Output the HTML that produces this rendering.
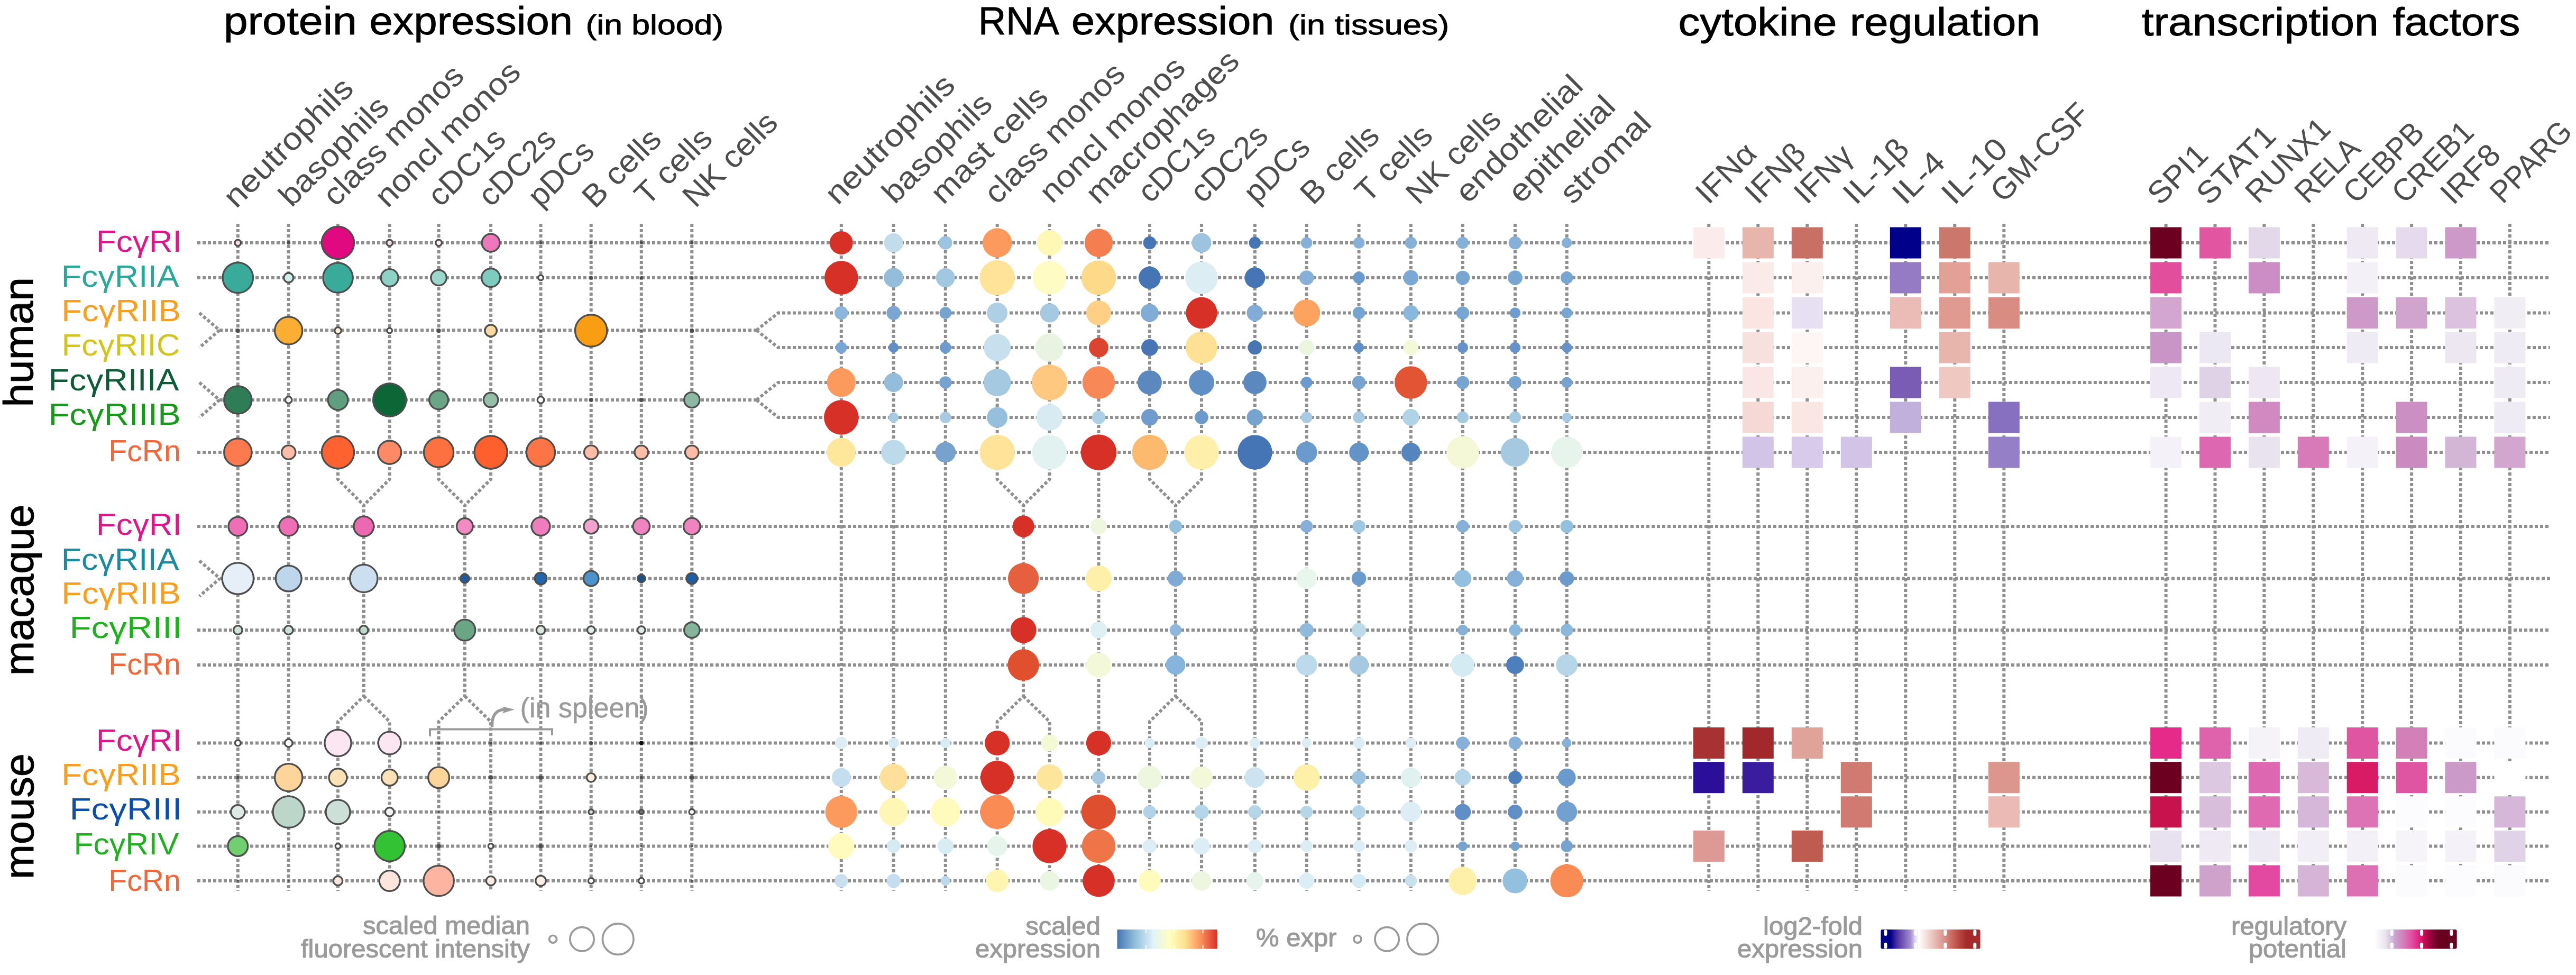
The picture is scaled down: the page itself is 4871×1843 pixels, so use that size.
<!DOCTYPE html>
<html><head><meta charset="utf-8"><style>
html,body{margin:0;padding:0;background:#fff;}
svg{display:block;}
text{font-family:"Liberation Sans", sans-serif;}
</style></head><body>
<svg width="4871" height="1843" viewBox="0 0 4871 1843">
<rect width="4871" height="1843" fill="#fff"/>
<text x="422.7" y="65.0" font-size="75" fill="#000" textLength="252.3" lengthAdjust="spacingAndGlyphs" stroke="#000" stroke-width="0.9">protein</text>
<text x="698.6" y="65.0" font-size="75" fill="#000" textLength="384.3" lengthAdjust="spacingAndGlyphs" stroke="#000" stroke-width="0.9">expression</text>
<text x="1107.5" y="65.0" font-size="51" fill="#000" textLength="260.6" lengthAdjust="spacingAndGlyphs" stroke="#000" stroke-width="0.9">(in blood)</text>
<text x="1850.1" y="65.0" font-size="75" fill="#000" textLength="152.7" lengthAdjust="spacingAndGlyphs" stroke="#000" stroke-width="0.9">RNA</text>
<text x="2026.0" y="65.0" font-size="75" fill="#000" textLength="383.4" lengthAdjust="spacingAndGlyphs" stroke="#000" stroke-width="0.9">expression</text>
<text x="2436.1" y="65.0" font-size="51" fill="#000" textLength="304.1" lengthAdjust="spacingAndGlyphs" stroke="#000" stroke-width="0.9">(in tissues)</text>
<text x="3173.4" y="67.0" font-size="75" fill="#000" textLength="300.0" lengthAdjust="spacingAndGlyphs" stroke="#000" stroke-width="0.9">cytokine</text>
<text x="3497.8" y="67.0" font-size="75" fill="#000" textLength="360.1" lengthAdjust="spacingAndGlyphs" stroke="#000" stroke-width="0.9">regulation</text>
<text x="4049.7" y="66.6" font-size="75" fill="#000" textLength="448.1" lengthAdjust="spacingAndGlyphs" stroke="#000" stroke-width="0.9">transcription</text>
<text x="4524.4" y="66.6" font-size="75" fill="#000" textLength="240.9" lengthAdjust="spacingAndGlyphs" stroke="#000" stroke-width="0.9">factors</text>
<text x="446.6" y="395.8" font-size="59" fill="#4d4d4d" text-anchor="start" textLength="318.4" lengthAdjust="spacingAndGlyphs" transform="rotate(-45 446.6 395.8)">neutrophils</text>
<text x="551.2" y="393.4" font-size="59" fill="#4d4d4d" text-anchor="start" textLength="265.2" lengthAdjust="spacingAndGlyphs" transform="rotate(-45 551.2 393.4)">basophils</text>
<text x="634.8" y="392.5" font-size="59" fill="#4d4d4d" text-anchor="start" textLength="347.6" lengthAdjust="spacingAndGlyphs" transform="rotate(-45 634.8 392.5)">class monos</text>
<text x="732.8" y="394.8" font-size="59" fill="#4d4d4d" text-anchor="start" textLength="360.7" lengthAdjust="spacingAndGlyphs" transform="rotate(-45 732.8000000000001 394.8)">noncl monos</text>
<text x="833.3" y="392.9" font-size="59" fill="#4d4d4d" text-anchor="start" textLength="178.4" lengthAdjust="spacingAndGlyphs" transform="rotate(-45 833.3000000000001 392.9)">cDC1s</text>
<text x="928.4" y="392.9" font-size="59" fill="#4d4d4d" text-anchor="start" textLength="178.4" lengthAdjust="spacingAndGlyphs" transform="rotate(-45 928.4 392.9)">cDC2s</text>
<text x="1022.2" y="394.0" font-size="59" fill="#4d4d4d" text-anchor="start" textLength="148.1" lengthAdjust="spacingAndGlyphs" transform="rotate(-45 1022.2 394)">pDCs</text>
<text x="1124.7" y="396.0" font-size="59" fill="#4d4d4d" text-anchor="start" textLength="182.8" lengthAdjust="spacingAndGlyphs" transform="rotate(-45 1124.7 396)">B cells</text>
<text x="1224.0" y="391.6" font-size="59" fill="#4d4d4d" text-anchor="start" textLength="178.8" lengthAdjust="spacingAndGlyphs" transform="rotate(-45 1224.0 391.6)">T cells</text>
<text x="1314.8" y="394.8" font-size="59" fill="#4d4d4d" text-anchor="start" textLength="225.2" lengthAdjust="spacingAndGlyphs" transform="rotate(-45 1314.8 394.8)">NK cells</text>
<text x="1584.1" y="389.6" font-size="59" fill="#4d4d4d" text-anchor="start" textLength="318.4" lengthAdjust="spacingAndGlyphs" transform="rotate(-45 1584.1 389.6)">neutrophils</text>
<text x="1692.1" y="387.6" font-size="59" fill="#4d4d4d" text-anchor="start" textLength="265.2" lengthAdjust="spacingAndGlyphs" transform="rotate(-45 1692.1000000000001 387.6)">basophils</text>
<text x="1783.8" y="388.6" font-size="59" fill="#4d4d4d" text-anchor="start" textLength="285.0" lengthAdjust="spacingAndGlyphs" transform="rotate(-45 1783.8 388.6)">mast cells</text>
<text x="1885.2" y="388.4" font-size="59" fill="#4d4d4d" text-anchor="start" textLength="347.6" lengthAdjust="spacingAndGlyphs" transform="rotate(-45 1885.2 388.4)">class monos</text>
<text x="1989.6" y="386.5" font-size="59" fill="#4d4d4d" text-anchor="start" textLength="360.7" lengthAdjust="spacingAndGlyphs" transform="rotate(-45 1989.6 386.5)">noncl monos</text>
<text x="2077.0" y="388.6" font-size="59" fill="#4d4d4d" text-anchor="start" textLength="381.4" lengthAdjust="spacingAndGlyphs" transform="rotate(-45 2077.0 388.6)">macrophages</text>
<text x="2175.6" y="386.0" font-size="59" fill="#4d4d4d" text-anchor="start" textLength="178.4" lengthAdjust="spacingAndGlyphs" transform="rotate(-45 2175.6 386)">cDC1s</text>
<text x="2274.8" y="386.0" font-size="59" fill="#4d4d4d" text-anchor="start" textLength="178.4" lengthAdjust="spacingAndGlyphs" transform="rotate(-45 2274.8 386)">cDC2s</text>
<text x="2375.7" y="387.0" font-size="59" fill="#4d4d4d" text-anchor="start" textLength="148.1" lengthAdjust="spacingAndGlyphs" transform="rotate(-45 2375.7000000000003 387)">pDCs</text>
<text x="2482.5" y="389.6" font-size="59" fill="#4d4d4d" text-anchor="start" textLength="182.8" lengthAdjust="spacingAndGlyphs" transform="rotate(-45 2482.5 389.6)">B cells</text>
<text x="2586.2" y="386.1" font-size="59" fill="#4d4d4d" text-anchor="start" textLength="178.8" lengthAdjust="spacingAndGlyphs" transform="rotate(-45 2586.2 386.1)">T cells</text>
<text x="2682.5" y="389.3" font-size="59" fill="#4d4d4d" text-anchor="start" textLength="225.2" lengthAdjust="spacingAndGlyphs" transform="rotate(-45 2682.5 389.3)">NK cells</text>
<text x="2776.2" y="386.4" font-size="59" fill="#4d4d4d" text-anchor="start" textLength="312.1" lengthAdjust="spacingAndGlyphs" transform="rotate(-45 2776.2000000000003 386.4)">endothelial</text>
<text x="2876.1" y="386.4" font-size="59" fill="#4d4d4d" text-anchor="start" textLength="257.4" lengthAdjust="spacingAndGlyphs" transform="rotate(-45 2876.1 386.4)">epithelial</text>
<text x="2973.8" y="388.2" font-size="59" fill="#4d4d4d" text-anchor="start" textLength="215.3" lengthAdjust="spacingAndGlyphs" transform="rotate(-45 2973.7999999999997 388.2)">stromal</text>
<text x="3230.2" y="388.6" font-size="59" fill="#4d4d4d" text-anchor="start" textLength="134.2" lengthAdjust="spacingAndGlyphs" transform="rotate(-45 3230.2000000000003 388.6)">IFNα</text>
<text x="3323.2" y="388.6" font-size="59" fill="#4d4d4d" text-anchor="start" textLength="134.2" lengthAdjust="spacingAndGlyphs" transform="rotate(-45 3323.2000000000003 388.6)">IFNβ</text>
<text x="3416.2" y="388.6" font-size="59" fill="#4d4d4d" text-anchor="start" textLength="128.5" lengthAdjust="spacingAndGlyphs" transform="rotate(-45 3416.2000000000003 388.6)">IFNγ</text>
<text x="3509.1" y="389.6" font-size="59" fill="#4d4d4d" text-anchor="start" textLength="147.5" lengthAdjust="spacingAndGlyphs" transform="rotate(-45 3509.1000000000004 389.6)">IL-1β</text>
<text x="3602.2" y="389.6" font-size="59" fill="#4d4d4d" text-anchor="start" textLength="112.2" lengthAdjust="spacingAndGlyphs" transform="rotate(-45 3602.2000000000003 389.6)">IL-4</text>
<text x="3695.1" y="389.6" font-size="59" fill="#4d4d4d" text-anchor="start" textLength="148.2" lengthAdjust="spacingAndGlyphs" transform="rotate(-45 3695.1000000000004 389.6)">IL-10</text>
<text x="3788.1" y="385.2" font-size="59" fill="#4d4d4d" text-anchor="start" textLength="235.7" lengthAdjust="spacingAndGlyphs" transform="rotate(-45 3788.1000000000004 385.2)">GM-CSF</text>
<text x="4084.8" y="390.2" font-size="59" fill="#4d4d4d" text-anchor="start" textLength="133.0" lengthAdjust="spacingAndGlyphs" transform="rotate(-45 4084.7999999999997 390.2)">SPI1</text>
<text x="4177.4" y="390.2" font-size="59" fill="#4d4d4d" text-anchor="start" textLength="183.5" lengthAdjust="spacingAndGlyphs" transform="rotate(-45 4177.4 390.2)">STAT1</text>
<text x="4270.0" y="387.2" font-size="59" fill="#4d4d4d" text-anchor="start" textLength="198.2" lengthAdjust="spacingAndGlyphs" transform="rotate(-45 4270.0 387.2)">RUNX1</text>
<text x="4363.3" y="387.2" font-size="59" fill="#4d4d4d" text-anchor="start" textLength="145.6" lengthAdjust="spacingAndGlyphs" transform="rotate(-45 4363.3 387.2)">RELA</text>
<text x="4454.9" y="387.3" font-size="59" fill="#4d4d4d" text-anchor="start" textLength="187.4" lengthAdjust="spacingAndGlyphs" transform="rotate(-45 4454.9 387.3)">CEBPB</text>
<text x="4547.1" y="387.3" font-size="59" fill="#4d4d4d" text-anchor="start" textLength="189.8" lengthAdjust="spacingAndGlyphs" transform="rotate(-45 4547.1 387.3)">CREB1</text>
<text x="4638.7" y="389.6" font-size="59" fill="#4d4d4d" text-anchor="start" textLength="131.9" lengthAdjust="spacingAndGlyphs" transform="rotate(-45 4638.7 389.6)">IRF8</text>
<text x="4732.5" y="387.2" font-size="59" fill="#4d4d4d" text-anchor="start" textLength="190.5" lengthAdjust="spacingAndGlyphs" transform="rotate(-45 4732.5 387.2)">PPARG</text>
<text x="0" y="0" font-size="78" fill="#000" textLength="245.5" lengthAdjust="spacingAndGlyphs" transform="translate(61.5 769.6) rotate(-90)" stroke="#000" stroke-width="0.9">human</text>
<text x="0" y="0" font-size="78" fill="#000" textLength="323.6" lengthAdjust="spacingAndGlyphs" transform="translate(62.6 1277.2) rotate(-90)" stroke="#000" stroke-width="0.9">macaque</text>
<text x="0" y="0" font-size="78" fill="#000" textLength="237.9" lengthAdjust="spacingAndGlyphs" transform="translate(62.6 1662.0) rotate(-90)" stroke="#000" stroke-width="0.9">mouse</text>
<text x="181.7" y="475.7" font-size="58" fill="#df168b" textLength="162.2" lengthAdjust="spacingAndGlyphs">FcγRI</text>
<text x="115.8" y="541.9" font-size="58" fill="#2aa69a" textLength="222.8" lengthAdjust="spacingAndGlyphs">FcγRIIA</text>
<text x="116.3" y="606.5" font-size="58" fill="#f99d1c" textLength="225.4" lengthAdjust="spacingAndGlyphs">FcγRIIB</text>
<text x="116.4" y="672.0" font-size="58" fill="#d2c41b" textLength="224.3" lengthAdjust="spacingAndGlyphs">FcγRIIC</text>
<text x="91.6" y="737.8" font-size="58" fill="#0c5c37" textLength="246.9" lengthAdjust="spacingAndGlyphs">FcγRIIIA</text>
<text x="91.5" y="803.0" font-size="58" fill="#17991a" textLength="250.2" lengthAdjust="spacingAndGlyphs">FcγRIIIB</text>
<text x="205.3" y="871.5" font-size="58" fill="#f2673a" textLength="136.6" lengthAdjust="spacingAndGlyphs">FcRn</text>
<text x="181.7" y="1011.0" font-size="58" fill="#df168b" textLength="162.2" lengthAdjust="spacingAndGlyphs">FcγRI</text>
<text x="115.8" y="1076.5" font-size="58" fill="#1b8a9f" textLength="222.8" lengthAdjust="spacingAndGlyphs">FcγRIIA</text>
<text x="116.3" y="1141.0" font-size="58" fill="#f99d1c" textLength="225.4" lengthAdjust="spacingAndGlyphs">FcγRIIB</text>
<text x="131.5" y="1206.0" font-size="58" fill="#1eb21e" textLength="213.0" lengthAdjust="spacingAndGlyphs">FcγRIII</text>
<text x="205.3" y="1275.0" font-size="58" fill="#f2673a" textLength="136.6" lengthAdjust="spacingAndGlyphs">FcRn</text>
<text x="181.7" y="1419.0" font-size="58" fill="#df168b" textLength="162.2" lengthAdjust="spacingAndGlyphs">FcγRI</text>
<text x="116.3" y="1484.0" font-size="58" fill="#f99d1c" textLength="225.4" lengthAdjust="spacingAndGlyphs">FcγRIIB</text>
<text x="131.5" y="1548.5" font-size="58" fill="#0d4ea9" textLength="213.0" lengthAdjust="spacingAndGlyphs">FcγRIII</text>
<text x="139.5" y="1614.5" font-size="58" fill="#22b022" textLength="199.1" lengthAdjust="spacingAndGlyphs">FcγRIV</text>
<text x="205.3" y="1684.0" font-size="58" fill="#f2673a" textLength="136.6" lengthAdjust="spacingAndGlyphs">FcRn</text>
<path d="M373,459H4822M373,525H4822M373,855H4822M373,995H4822M373,1191H4822M373,1257H4822M373,1404.5H4822M373,1469.7H4822M373,1534.8H4822M373,1599.4H4822M373,1665H4822M377,591.5L415,624.25L377,657M415,624.25H1430.5M1430.5,624.25L1471.5,591.5H4822M1430.5,624.25L1471.5,657H4822M377,723L415,756.0L377,789M415,756.0H1430.5M1430.5,756.0L1471.5,723H4822M1430.5,756.0L1471.5,789H4822M377,1060L416,1093.5L377,1127M416,1093.5H4822M449.8,423V1684M545.7,423V1684M1022.5,423V1684M1117.7,423V1684M1212.8,423V1684M1308.3,423V1684M639,423V906L687.85,955V1316L639,1364V1684M736.7,423V906L687.85,955M687.85,1316L736.7,1364V1684M829.6,423V906L878.85,955V1316L829.6,1364V1684M928.1,423V906L878.85,955M878.85,1316L928.1,1364V1684M1590.8,423V1684M1689.7,423V1684M1787.8,423V1684M2077.5,423V1684M2372.9,423V1684M2470.7,423V1684M2569.6,423V1684M2667.8,423V1684M2765.9,423V1684M2864.9,423V1684M2962.7,423V1684M1885.7,423V906L1935.15,955V1316L1885.7,1364V1684M1984.6,423V906L1935.15,955M1935.15,1316L1984.6,1364V1684M2173.9,423V906L2222.95,955V1316L2173.9,1364V1684M2272,423V906L2222.95,955M2222.95,1316L2272,1364V1684M3231.3,423V1684M3324.3,423V1684M3417.3,423V1684M3510.3,423V1684M3603.3,423V1684M3696.3,423V1684M3789.3,423V1684M4095.6,423V1684M4188.5,423V1684M4281.4,423V1684M4374.3,423V1684M4467.2,423V1684M4560.1,423V1684M4653.0,423V1684M4745.9,423V1684" fill="none" stroke="#8f8f8f" stroke-width="6" stroke-dasharray="6 4"/>
<circle cx="449.8" cy="459" r="5.8" fill="#f9dceb" stroke="#4d4d4d" stroke-width="3.3"/>
<circle cx="545.7" cy="459" r="3.5" fill="#4d4d4d"/>
<circle cx="639" cy="459" r="30.6" fill="#e0097f" stroke="#4d4d4d" stroke-width="3.3"/>
<circle cx="736.7" cy="459" r="5.8" fill="#f9dceb" stroke="#4d4d4d" stroke-width="3.3"/>
<circle cx="829.6" cy="459" r="5.8" fill="#fdf0f6" stroke="#4d4d4d" stroke-width="3.3"/>
<circle cx="928.1" cy="459" r="16.9" fill="#ee77bb" stroke="#4d4d4d" stroke-width="3.3"/>
<circle cx="1022.5" cy="459" r="3" fill="#4d4d4d"/>
<circle cx="1117.7" cy="459" r="3" fill="#4d4d4d"/>
<circle cx="1212.8" cy="459" r="3" fill="#4d4d4d"/>
<circle cx="1308.3" cy="459" r="3" fill="#4d4d4d"/>
<circle cx="449.8" cy="525" r="28.7" fill="#3aab9b" stroke="#4d4d4d" stroke-width="3.3"/>
<circle cx="545.7" cy="525" r="9.0" fill="#cfeee9" stroke="#4d4d4d" stroke-width="3.3"/>
<circle cx="639" cy="525" r="28.1" fill="#3aab9b" stroke="#4d4d4d" stroke-width="3.3"/>
<circle cx="736.7" cy="525" r="16.4" fill="#8ed2c6" stroke="#4d4d4d" stroke-width="3.3"/>
<circle cx="829.6" cy="525" r="14.7" fill="#9cd7cd" stroke="#4d4d4d" stroke-width="3.3"/>
<circle cx="928.1" cy="525" r="17.4" fill="#7ecbbf" stroke="#4d4d4d" stroke-width="3.3"/>
<circle cx="1022.5" cy="525" r="4.8" fill="#ffffff" stroke="#4d4d4d" stroke-width="3.3"/>
<circle cx="1117.7" cy="525" r="3.5" fill="#4d4d4d"/>
<circle cx="1212.8" cy="525" r="3" fill="#4d4d4d"/>
<circle cx="1308.3" cy="525" r="3" fill="#4d4d4d"/>
<circle cx="449.8" cy="625" r="4" fill="#4d4d4d"/>
<circle cx="545.7" cy="625" r="26.1" fill="#fcad33" stroke="#4d4d4d" stroke-width="3.3"/>
<circle cx="639" cy="625" r="6.3" fill="#fdf1dc" stroke="#4d4d4d" stroke-width="3.3"/>
<circle cx="736.7" cy="625" r="4.8" fill="#ffffff" stroke="#4d4d4d" stroke-width="3.3"/>
<circle cx="829.6" cy="625" r="4" fill="#4d4d4d"/>
<circle cx="928.1" cy="625" r="11.2" fill="#fdd9a0" stroke="#4d4d4d" stroke-width="3.3"/>
<circle cx="1022.5" cy="625" r="2" fill="#4d4d4d"/>
<circle cx="1117.7" cy="625" r="30.2" fill="#f99e12" stroke="#4d4d4d" stroke-width="3.3"/>
<circle cx="1212.8" cy="625" r="2" fill="#4d4d4d"/>
<circle cx="1308.3" cy="625" r="4" fill="#4d4d4d"/>
<circle cx="449.8" cy="756" r="26.1" fill="#2e7d57" stroke="#4d4d4d" stroke-width="3.3"/>
<circle cx="545.7" cy="756" r="6.3" fill="#f0f5f2" stroke="#4d4d4d" stroke-width="3.3"/>
<circle cx="639" cy="756" r="18.9" fill="#5f9e7f" stroke="#4d4d4d" stroke-width="3.3"/>
<circle cx="736.7" cy="756" r="31.1" fill="#0c6636" stroke="#4d4d4d" stroke-width="3.3"/>
<circle cx="829.6" cy="756" r="17.9" fill="#6aa586" stroke="#4d4d4d" stroke-width="3.3"/>
<circle cx="928.1" cy="756" r="13.8" fill="#95bfa8" stroke="#4d4d4d" stroke-width="3.3"/>
<circle cx="1022.5" cy="756" r="6.3" fill="#ffffff" stroke="#4d4d4d" stroke-width="3.3"/>
<circle cx="1117.7" cy="756" r="4" fill="#4d4d4d"/>
<circle cx="1212.8" cy="756" r="4" fill="#4d4d4d"/>
<circle cx="1308.3" cy="756" r="14.7" fill="#8cb9a1" stroke="#4d4d4d" stroke-width="3.3"/>
<circle cx="449.8" cy="855" r="26.1" fill="#fd7a4e" stroke="#4d4d4d" stroke-width="3.3"/>
<circle cx="545.7" cy="855" r="13.2" fill="#fdbca6" stroke="#4d4d4d" stroke-width="3.3"/>
<circle cx="639" cy="855" r="30.6" fill="#fe6231" stroke="#4d4d4d" stroke-width="3.3"/>
<circle cx="736.7" cy="855" r="22.0" fill="#fd8a64" stroke="#4d4d4d" stroke-width="3.3"/>
<circle cx="829.6" cy="855" r="28.1" fill="#fd7040" stroke="#4d4d4d" stroke-width="3.3"/>
<circle cx="928.1" cy="855" r="31.1" fill="#fe5f2c" stroke="#4d4d4d" stroke-width="3.3"/>
<circle cx="1022.5" cy="855" r="27.1" fill="#fd7447" stroke="#4d4d4d" stroke-width="3.3"/>
<circle cx="1117.7" cy="855" r="13.2" fill="#fdbca6" stroke="#4d4d4d" stroke-width="3.3"/>
<circle cx="1212.8" cy="855" r="12.8" fill="#fdbca6" stroke="#4d4d4d" stroke-width="3.3"/>
<circle cx="1308.3" cy="855" r="12.8" fill="#fdbca6" stroke="#4d4d4d" stroke-width="3.3"/>
<circle cx="449.8" cy="995" r="17.9" fill="#ee6fb5" stroke="#4d4d4d" stroke-width="3.3"/>
<circle cx="545.7" cy="995" r="17.9" fill="#ee6fb5" stroke="#4d4d4d" stroke-width="3.3"/>
<circle cx="687.85" cy="995" r="18.9" fill="#ec69b1" stroke="#4d4d4d" stroke-width="3.3"/>
<circle cx="878.85" cy="995" r="15.3" fill="#f28ac4" stroke="#4d4d4d" stroke-width="3.3"/>
<circle cx="1022.5" cy="995" r="17.4" fill="#ef7dbd" stroke="#4d4d4d" stroke-width="3.3"/>
<circle cx="1117.7" cy="995" r="13.8" fill="#f4a3cf" stroke="#4d4d4d" stroke-width="3.3"/>
<circle cx="1212.8" cy="995" r="15.8" fill="#ef84c0" stroke="#4d4d4d" stroke-width="3.3"/>
<circle cx="1308.3" cy="995" r="15.8" fill="#ef84c0" stroke="#4d4d4d" stroke-width="3.3"/>
<circle cx="449.8" cy="1093.5" r="29.7" fill="#e6eff8" stroke="#4d4d4d" stroke-width="3.3"/>
<circle cx="545.7" cy="1093.5" r="24.4" fill="#bdd6eb" stroke="#4d4d4d" stroke-width="3.3"/>
<circle cx="687.85" cy="1093.5" r="26.1" fill="#cbdff0" stroke="#4d4d4d" stroke-width="3.3"/>
<circle cx="878.85" cy="1093.5" r="8.3" fill="#1d5aa0" stroke="#4d4d4d" stroke-width="3.3"/>
<circle cx="1022.5" cy="1093.5" r="11.3" fill="#2066ae" stroke="#4d4d4d" stroke-width="3.3"/>
<circle cx="1117.7" cy="1093.5" r="14.3" fill="#4a93cc" stroke="#4d4d4d" stroke-width="3.3"/>
<circle cx="1212.8" cy="1093.5" r="7.3" fill="#1a4f90" stroke="#4d4d4d" stroke-width="3.3"/>
<circle cx="1308.3" cy="1093.5" r="10.3" fill="#1c5ea8" stroke="#4d4d4d" stroke-width="3.3"/>
<circle cx="449.8" cy="1191" r="8.3" fill="#cde3d7" stroke="#4d4d4d" stroke-width="3.3"/>
<circle cx="545.7" cy="1191" r="8.3" fill="#cde3d7" stroke="#4d4d4d" stroke-width="3.3"/>
<circle cx="687.85" cy="1191" r="8.3" fill="#bcd9c9" stroke="#4d4d4d" stroke-width="3.3"/>
<circle cx="878.85" cy="1191" r="19.9" fill="#6aa584" stroke="#4d4d4d" stroke-width="3.3"/>
<circle cx="1022.5" cy="1191" r="8.3" fill="#d5e8dd" stroke="#4d4d4d" stroke-width="3.3"/>
<circle cx="1117.7" cy="1191" r="7.3" fill="#dcece3" stroke="#4d4d4d" stroke-width="3.3"/>
<circle cx="1212.8" cy="1191" r="7.3" fill="#dcece3" stroke="#4d4d4d" stroke-width="3.3"/>
<circle cx="1308.3" cy="1191" r="14.7" fill="#82b59a" stroke="#4d4d4d" stroke-width="3.3"/>
<circle cx="449.8" cy="1404.5" r="5.3" fill="#ffffff" stroke="#4d4d4d" stroke-width="3.3"/>
<circle cx="545.7" cy="1404.5" r="7.3" fill="#ffffff" stroke="#4d4d4d" stroke-width="3.3"/>
<circle cx="639" cy="1404.5" r="25.1" fill="#fbe6f2" stroke="#4d4d4d" stroke-width="3.3"/>
<circle cx="736.7" cy="1404.5" r="21.4" fill="#fbe6f2" stroke="#4d4d4d" stroke-width="3.3"/>
<circle cx="829.6" cy="1404.5" r="3" fill="#4d4d4d"/>
<circle cx="928.1" cy="1404.5" r="3" fill="#4d4d4d"/>
<circle cx="1022.5" cy="1404.5" r="3" fill="#4d4d4d"/>
<circle cx="1117.7" cy="1404.5" r="3.5" fill="#4d4d4d"/>
<circle cx="1212.8" cy="1404.5" r="4" fill="#111"/>
<circle cx="1308.3" cy="1404.5" r="3" fill="#4d4d4d"/>
<circle cx="449.8" cy="1469.7" r="3" fill="#4d4d4d"/>
<circle cx="545.7" cy="1469.7" r="26.1" fill="#fdd49a" stroke="#4d4d4d" stroke-width="3.3"/>
<circle cx="639" cy="1469.7" r="16.9" fill="#fde2b8" stroke="#4d4d4d" stroke-width="3.3"/>
<circle cx="736.7" cy="1469.7" r="15.3" fill="#fde2b8" stroke="#4d4d4d" stroke-width="3.3"/>
<circle cx="829.6" cy="1469.7" r="19.9" fill="#fdd49a" stroke="#4d4d4d" stroke-width="3.3"/>
<circle cx="928.1" cy="1469.7" r="4" fill="#4d4d4d"/>
<circle cx="1022.5" cy="1469.7" r="4" fill="#4d4d4d"/>
<circle cx="1117.7" cy="1469.7" r="8.3" fill="#fef0d8" stroke="#4d4d4d" stroke-width="3.3"/>
<circle cx="1212.8" cy="1469.7" r="3" fill="#4d4d4d"/>
<circle cx="1308.3" cy="1469.7" r="4" fill="#4d4d4d"/>
<circle cx="449.8" cy="1534.8" r="13.2" fill="#dde9e4" stroke="#4d4d4d" stroke-width="3.3"/>
<circle cx="545.7" cy="1534.8" r="29.7" fill="#bcd7ca" stroke="#4d4d4d" stroke-width="3.3"/>
<circle cx="639" cy="1534.8" r="23.0" fill="#cde0d8" stroke="#4d4d4d" stroke-width="3.3"/>
<circle cx="736.7" cy="1534.8" r="8.3" fill="#f0f4f2" stroke="#4d4d4d" stroke-width="3.3"/>
<circle cx="829.6" cy="1534.8" r="2" fill="#4d4d4d"/>
<circle cx="928.1" cy="1534.8" r="2" fill="#4d4d4d"/>
<circle cx="1022.5" cy="1534.8" r="2" fill="#4d4d4d"/>
<circle cx="1117.7" cy="1534.8" r="4.8" fill="#cfe0d8" stroke="#4d4d4d" stroke-width="3.3"/>
<circle cx="1212.8" cy="1534.8" r="4.3" fill="#777777" stroke="#4d4d4d" stroke-width="3.3"/>
<circle cx="1308.3" cy="1534.8" r="5.3" fill="#ffffff" stroke="#4d4d4d" stroke-width="3.3"/>
<circle cx="449.8" cy="1599.4" r="18.9" fill="#70d070" stroke="#4d4d4d" stroke-width="3.3"/>
<circle cx="545.7" cy="1599.4" r="2" fill="#4d4d4d"/>
<circle cx="639" cy="1599.4" r="4.8" fill="#ffffff" stroke="#4d4d4d" stroke-width="3.3"/>
<circle cx="736.7" cy="1599.4" r="28.7" fill="#33c233" stroke="#4d4d4d" stroke-width="3.3"/>
<circle cx="829.6" cy="1599.4" r="4" fill="#4d4d4d"/>
<circle cx="928.1" cy="1599.4" r="4.8" fill="#ffffff" stroke="#4d4d4d" stroke-width="3.3"/>
<circle cx="1022.5" cy="1599.4" r="4" fill="#4d4d4d"/>
<circle cx="1117.7" cy="1599.4" r="2" fill="#4d4d4d"/>
<circle cx="1212.8" cy="1599.4" r="2" fill="#4d4d4d"/>
<circle cx="1308.3" cy="1599.4" r="2" fill="#4d4d4d"/>
<circle cx="449.8" cy="1665" r="2" fill="#4d4d4d"/>
<circle cx="545.7" cy="1665" r="2" fill="#4d4d4d"/>
<circle cx="639" cy="1665" r="8.7" fill="#fde6df" stroke="#4d4d4d" stroke-width="3.3"/>
<circle cx="736.7" cy="1665" r="19.4" fill="#fde4dc" stroke="#4d4d4d" stroke-width="3.3"/>
<circle cx="829.6" cy="1665" r="28.7" fill="#fdb5a1" stroke="#4d4d4d" stroke-width="3.3"/>
<circle cx="928.1" cy="1665" r="8.7" fill="#fdeee8" stroke="#4d4d4d" stroke-width="3.3"/>
<circle cx="1022.5" cy="1665" r="9.7" fill="#fdeee8" stroke="#4d4d4d" stroke-width="3.3"/>
<circle cx="1117.7" cy="1665" r="5.3" fill="#ffffff" stroke="#4d4d4d" stroke-width="3.3"/>
<circle cx="1212.8" cy="1665" r="5.3" fill="#ffffff" stroke="#4d4d4d" stroke-width="3.3"/>
<circle cx="1308.3" cy="1665" r="2" fill="#4d4d4d"/>
<circle cx="1590.8" cy="459" r="22" fill="#d73027"/>
<circle cx="1590.8" cy="525" r="31.8" fill="#d73027"/>
<circle cx="1590.8" cy="591.5" r="12.8" fill="#8db6db"/>
<circle cx="1590.8" cy="657" r="10.8" fill="#7aa6d4"/>
<circle cx="1590.8" cy="723" r="27.2" fill="#fc9a5e"/>
<circle cx="1590.8" cy="789" r="32.8" fill="#d73027"/>
<circle cx="1590.8" cy="855" r="27.2" fill="#fee79b"/>
<circle cx="1689.7" cy="459" r="18" fill="#c3dcec"/>
<circle cx="1689.7" cy="525" r="18.5" fill="#93bddb"/>
<circle cx="1689.7" cy="591.5" r="13.3" fill="#7ba6d2"/>
<circle cx="1689.7" cy="657" r="9.7" fill="#5f8fc6"/>
<circle cx="1689.7" cy="723" r="18" fill="#93bddb"/>
<circle cx="1689.7" cy="789" r="9.7" fill="#a8cbe3"/>
<circle cx="1689.7" cy="855" r="23.6" fill="#bcdaea"/>
<circle cx="1787.8" cy="459" r="12.8" fill="#9cc4e0"/>
<circle cx="1787.8" cy="525" r="18" fill="#a2c8e1"/>
<circle cx="1787.8" cy="591.5" r="11.3" fill="#77a3d0"/>
<circle cx="1787.8" cy="657" r="10.8" fill="#6d9bcf"/>
<circle cx="1787.8" cy="723" r="11.8" fill="#77a3d0"/>
<circle cx="1787.8" cy="789" r="10.8" fill="#a8cbe3"/>
<circle cx="1787.8" cy="855" r="19.5" fill="#76a2cd"/>
<circle cx="1885.7" cy="459" r="27.7" fill="#fc9a5e"/>
<circle cx="1885.7" cy="525" r="33.3" fill="#fee398"/>
<circle cx="1885.7" cy="591.5" r="19.5" fill="#afd0e4"/>
<circle cx="1885.7" cy="657" r="25.6" fill="#c8e0ee"/>
<circle cx="1885.7" cy="723" r="26" fill="#a5c9e0"/>
<circle cx="1885.7" cy="789" r="19.5" fill="#95bfdd"/>
<circle cx="1885.7" cy="855" r="33.3" fill="#fee398"/>
<circle cx="1984.6" cy="459" r="24" fill="#fef7b5"/>
<circle cx="1984.6" cy="525" r="31.8" fill="#fefcc2"/>
<circle cx="1984.6" cy="591.5" r="18" fill="#a5c9e0"/>
<circle cx="1984.6" cy="657" r="26.7" fill="#e8f3e2"/>
<circle cx="1984.6" cy="723" r="33.8" fill="#fec881"/>
<circle cx="1984.6" cy="789" r="25" fill="#d8ebf2"/>
<circle cx="1984.6" cy="855" r="32.8" fill="#e1f2f0"/>
<circle cx="2077.5" cy="459" r="26.7" fill="#f57e50"/>
<circle cx="2077.5" cy="525" r="32.8" fill="#fdda8a"/>
<circle cx="2077.5" cy="591.5" r="23.6" fill="#fdd085"/>
<circle cx="2077.5" cy="657" r="18.5" fill="#dd4430"/>
<circle cx="2077.5" cy="723" r="30.8" fill="#f88856"/>
<circle cx="2077.5" cy="789" r="12.8" fill="#acd0e6"/>
<circle cx="2077.5" cy="855" r="33.8" fill="#d73027"/>
<circle cx="2173.9" cy="459" r="12.3" fill="#4575b4"/>
<circle cx="2173.9" cy="525" r="21" fill="#4575b4"/>
<circle cx="2173.9" cy="591.5" r="17" fill="#80acd5"/>
<circle cx="2173.9" cy="657" r="15.9" fill="#4876b4"/>
<circle cx="2173.9" cy="723" r="23" fill="#5b88bf"/>
<circle cx="2173.9" cy="789" r="15.9" fill="#6f9ccc"/>
<circle cx="2173.9" cy="855" r="33.3" fill="#fdb96e"/>
<circle cx="2272" cy="459" r="18.5" fill="#9cc4e0"/>
<circle cx="2272" cy="525" r="30.8" fill="#dcedf4"/>
<circle cx="2272" cy="591.5" r="29.7" fill="#d73027"/>
<circle cx="2272" cy="657" r="30.3" fill="#fee195"/>
<circle cx="2272" cy="723" r="24" fill="#5f8fc4"/>
<circle cx="2272" cy="789" r="12.8" fill="#6b9acc"/>
<circle cx="2272" cy="855" r="32.8" fill="#fef0aa"/>
<circle cx="2372.9" cy="459" r="11.3" fill="#4575b4"/>
<circle cx="2372.9" cy="525" r="19.5" fill="#4575b4"/>
<circle cx="2372.9" cy="591.5" r="15.4" fill="#82acd6"/>
<circle cx="2372.9" cy="657" r="13.3" fill="#4876b4"/>
<circle cx="2372.9" cy="723" r="22" fill="#5b88bf"/>
<circle cx="2372.9" cy="789" r="15.4" fill="#77a3d0"/>
<circle cx="2372.9" cy="855" r="32.8" fill="#4575b4"/>
<circle cx="2470.7" cy="459" r="10.8" fill="#86b0d8"/>
<circle cx="2470.7" cy="525" r="13.8" fill="#86b0d8"/>
<circle cx="2470.7" cy="591.5" r="25.6" fill="#fca35f"/>
<circle cx="2470.7" cy="657" r="14.4" fill="#ebf5e0"/>
<circle cx="2470.7" cy="723" r="10.8" fill="#6c9ace"/>
<circle cx="2470.7" cy="789" r="10.8" fill="#a8cbe3"/>
<circle cx="2470.7" cy="855" r="20" fill="#6b9acc"/>
<circle cx="2569.6" cy="459" r="10.8" fill="#86b0d8"/>
<circle cx="2569.6" cy="525" r="11.3" fill="#6b9acc"/>
<circle cx="2569.6" cy="591.5" r="11.8" fill="#77a3d0"/>
<circle cx="2569.6" cy="657" r="9.7" fill="#5f8fc6"/>
<circle cx="2569.6" cy="723" r="12.8" fill="#77a3d0"/>
<circle cx="2569.6" cy="789" r="11.3" fill="#a8cbe3"/>
<circle cx="2569.6" cy="855" r="18.5" fill="#6394c8"/>
<circle cx="2667.8" cy="459" r="11.3" fill="#86b0d8"/>
<circle cx="2667.8" cy="525" r="14.4" fill="#7ca8d4"/>
<circle cx="2667.8" cy="591.5" r="14.4" fill="#8ab8dc"/>
<circle cx="2667.8" cy="657" r="14.4" fill="#f2f8d8"/>
<circle cx="2667.8" cy="723" r="30.8" fill="#e15434"/>
<circle cx="2667.8" cy="789" r="15.9" fill="#b1d3e6"/>
<circle cx="2667.8" cy="855" r="18" fill="#5584bf"/>
<circle cx="2765.9" cy="459" r="11.3" fill="#86b0d8"/>
<circle cx="2765.9" cy="525" r="13.3" fill="#77a6d2"/>
<circle cx="2765.9" cy="591.5" r="12.3" fill="#77a6d2"/>
<circle cx="2765.9" cy="657" r="10.3" fill="#6592c8"/>
<circle cx="2765.9" cy="723" r="12.3" fill="#77a3d0"/>
<circle cx="2765.9" cy="789" r="11.3" fill="#a4c9e3"/>
<circle cx="2765.9" cy="855" r="30.8" fill="#f4f8d6"/>
<circle cx="2864.9" cy="459" r="12.3" fill="#86b0d8"/>
<circle cx="2864.9" cy="525" r="13.8" fill="#77a6d2"/>
<circle cx="2864.9" cy="591.5" r="10.3" fill="#6e9ccc"/>
<circle cx="2864.9" cy="657" r="10.3" fill="#6592c8"/>
<circle cx="2864.9" cy="723" r="12.3" fill="#77a3d0"/>
<circle cx="2864.9" cy="789" r="11.3" fill="#a4c9e3"/>
<circle cx="2864.9" cy="855" r="27.2" fill="#a5c9e0"/>
<circle cx="2962.7" cy="459" r="9.7" fill="#86b0d8"/>
<circle cx="2962.7" cy="525" r="11.8" fill="#77a6d2"/>
<circle cx="2962.7" cy="591.5" r="10.3" fill="#77a6d2"/>
<circle cx="2962.7" cy="657" r="9.7" fill="#6592c8"/>
<circle cx="2962.7" cy="723" r="10.3" fill="#77a3d0"/>
<circle cx="2962.7" cy="789" r="9.2" fill="#a4c9e3"/>
<circle cx="2962.7" cy="855" r="29.7" fill="#e6f4ec"/>
<circle cx="1935.15" cy="995" r="20.5" fill="#d73027"/>
<circle cx="1935.15" cy="1093.5" r="29.2" fill="#e6603f"/>
<circle cx="1935.15" cy="1191" r="24.6" fill="#d73027"/>
<circle cx="1935.15" cy="1257" r="29.7" fill="#e0502f"/>
<circle cx="2077.5" cy="995" r="15.4" fill="#eef6e0"/>
<circle cx="2077.5" cy="1093.5" r="24.6" fill="#fef0a9"/>
<circle cx="2077.5" cy="1191" r="15.9" fill="#dff0f4"/>
<circle cx="2077.5" cy="1257" r="23.6" fill="#f3f9d8"/>
<circle cx="2222.95" cy="995" r="12.3" fill="#94c0df"/>
<circle cx="2222.95" cy="1093.5" r="14.9" fill="#7faad4"/>
<circle cx="2222.95" cy="1191" r="11.3" fill="#8fb8dc"/>
<circle cx="2222.95" cy="1257" r="18.5" fill="#86b4dc"/>
<circle cx="2470.7" cy="995" r="11.8" fill="#86b0d8"/>
<circle cx="2470.7" cy="1093.5" r="19.5" fill="#e8f6ee"/>
<circle cx="2470.7" cy="1191" r="13.3" fill="#8fbadc"/>
<circle cx="2470.7" cy="1257" r="20" fill="#bcdaea"/>
<circle cx="2569.6" cy="995" r="12.3" fill="#9fc8e2"/>
<circle cx="2569.6" cy="1093.5" r="13.8" fill="#6b9acc"/>
<circle cx="2569.6" cy="1191" r="13.8" fill="#bcdaea"/>
<circle cx="2569.6" cy="1257" r="18.5" fill="#a5c9e0"/>
<circle cx="2765.9" cy="995" r="11.8" fill="#86b0d8"/>
<circle cx="2765.9" cy="1093.5" r="16.4" fill="#94c0df"/>
<circle cx="2765.9" cy="1191" r="10.3" fill="#86b0d8"/>
<circle cx="2765.9" cy="1257" r="22" fill="#d4ebf4"/>
<circle cx="2864.9" cy="995" r="12.3" fill="#9cc4e0"/>
<circle cx="2864.9" cy="1093.5" r="15.4" fill="#86b0d8"/>
<circle cx="2864.9" cy="1191" r="11.3" fill="#8ab8dc"/>
<circle cx="2864.9" cy="1257" r="17" fill="#4d7fbc"/>
<circle cx="2962.7" cy="995" r="12.3" fill="#94c0df"/>
<circle cx="2962.7" cy="1093.5" r="13.8" fill="#6b9acc"/>
<circle cx="2962.7" cy="1191" r="11.8" fill="#8ab8dc"/>
<circle cx="2962.7" cy="1257" r="20.5" fill="#b5d6e8"/>
<circle cx="1590.8" cy="1404.5" r="11.8" fill="#dcedf6"/>
<circle cx="1590.8" cy="1469.7" r="18" fill="#c4def0"/>
<circle cx="1590.8" cy="1534.8" r="30.3" fill="#fc9a5e"/>
<circle cx="1590.8" cy="1599.4" r="24.6" fill="#fefbbd"/>
<circle cx="1590.8" cy="1665" r="12.8" fill="#c8e0ee"/>
<circle cx="1689.7" cy="1404.5" r="10.3" fill="#d4ebf4"/>
<circle cx="1689.7" cy="1469.7" r="26" fill="#fee09a"/>
<circle cx="1689.7" cy="1534.8" r="26.7" fill="#fef6b5"/>
<circle cx="1689.7" cy="1599.4" r="12.8" fill="#d4ebf4"/>
<circle cx="1689.7" cy="1665" r="13.3" fill="#c4def0"/>
<circle cx="1787.8" cy="1404.5" r="9.7" fill="#d8ecf4"/>
<circle cx="1787.8" cy="1469.7" r="22.6" fill="#f2f8d8"/>
<circle cx="1787.8" cy="1534.8" r="27.7" fill="#fefbbd"/>
<circle cx="1787.8" cy="1599.4" r="14.9" fill="#d8ecf4"/>
<circle cx="1787.8" cy="1665" r="9.2" fill="#bcd8ea"/>
<circle cx="1885.7" cy="1404.5" r="23.6" fill="#d73027"/>
<circle cx="1885.7" cy="1469.7" r="31.8" fill="#d73027"/>
<circle cx="1885.7" cy="1534.8" r="32.3" fill="#fb8b55"/>
<circle cx="1885.7" cy="1599.4" r="19" fill="#e6f4ec"/>
<circle cx="1885.7" cy="1665" r="21.5" fill="#fef5b0"/>
<circle cx="1984.6" cy="1404.5" r="15.9" fill="#f3f9d4"/>
<circle cx="1984.6" cy="1469.7" r="25" fill="#fee59c"/>
<circle cx="1984.6" cy="1534.8" r="26.7" fill="#fefbb8"/>
<circle cx="1984.6" cy="1599.4" r="32.3" fill="#d73027"/>
<circle cx="1984.6" cy="1665" r="18.5" fill="#eaf5e2"/>
<circle cx="2077.5" cy="1404.5" r="23.6" fill="#d73027"/>
<circle cx="2077.5" cy="1469.7" r="12.8" fill="#a5c9e0"/>
<circle cx="2077.5" cy="1534.8" r="32.8" fill="#e04e30"/>
<circle cx="2077.5" cy="1599.4" r="31.8" fill="#ee7548"/>
<circle cx="2077.5" cy="1665" r="30.3" fill="#d73027"/>
<circle cx="2173.9" cy="1404.5" r="9.7" fill="#dcedf6"/>
<circle cx="2173.9" cy="1469.7" r="22.6" fill="#eef6e0"/>
<circle cx="2173.9" cy="1534.8" r="12.3" fill="#b1d3e6"/>
<circle cx="2173.9" cy="1599.4" r="13.3" fill="#dcedf6"/>
<circle cx="2173.9" cy="1665" r="21" fill="#fefbbd"/>
<circle cx="2272" cy="1404.5" r="11.8" fill="#dcedf6"/>
<circle cx="2272" cy="1469.7" r="21" fill="#f3f9d8"/>
<circle cx="2272" cy="1534.8" r="13.8" fill="#b5d6e8"/>
<circle cx="2272" cy="1599.4" r="15.9" fill="#dcedf6"/>
<circle cx="2272" cy="1665" r="18.5" fill="#eef6e0"/>
<circle cx="2372.9" cy="1404.5" r="10.3" fill="#dcedf6"/>
<circle cx="2372.9" cy="1469.7" r="19.5" fill="#cde4f0"/>
<circle cx="2372.9" cy="1534.8" r="12.8" fill="#b5d6e8"/>
<circle cx="2372.9" cy="1599.4" r="12.8" fill="#dcedf6"/>
<circle cx="2372.9" cy="1665" r="16.4" fill="#e6f4ec"/>
<circle cx="2470.7" cy="1404.5" r="9.2" fill="#dcedf6"/>
<circle cx="2470.7" cy="1469.7" r="25" fill="#fef0a9"/>
<circle cx="2470.7" cy="1534.8" r="11.8" fill="#b5d6e8"/>
<circle cx="2470.7" cy="1599.4" r="11.3" fill="#dcedf6"/>
<circle cx="2470.7" cy="1665" r="14.9" fill="#dcedf6"/>
<circle cx="2569.6" cy="1404.5" r="10.8" fill="#dcedf6"/>
<circle cx="2569.6" cy="1469.7" r="13.3" fill="#9cc4e0"/>
<circle cx="2569.6" cy="1534.8" r="12.8" fill="#b5d6e8"/>
<circle cx="2569.6" cy="1599.4" r="11.3" fill="#dcedf6"/>
<circle cx="2569.6" cy="1665" r="13.3" fill="#d4ebf4"/>
<circle cx="2667.8" cy="1404.5" r="10.3" fill="#dcedf6"/>
<circle cx="2667.8" cy="1469.7" r="19" fill="#e0f2f0"/>
<circle cx="2667.8" cy="1534.8" r="19.5" fill="#dcedf6"/>
<circle cx="2667.8" cy="1599.4" r="11.8" fill="#dcedf6"/>
<circle cx="2667.8" cy="1665" r="11.3" fill="#c8e0ee"/>
<circle cx="2765.9" cy="1404.5" r="12.3" fill="#86b0d8"/>
<circle cx="2765.9" cy="1469.7" r="15.4" fill="#b5d6e8"/>
<circle cx="2765.9" cy="1534.8" r="15.4" fill="#5f8fc6"/>
<circle cx="2765.9" cy="1599.4" r="9.2" fill="#77a3d0"/>
<circle cx="2765.9" cy="1665" r="26.7" fill="#fef0a9"/>
<circle cx="2864.9" cy="1404.5" r="12.3" fill="#86b0d8"/>
<circle cx="2864.9" cy="1469.7" r="12.8" fill="#4d7fbc"/>
<circle cx="2864.9" cy="1534.8" r="13.8" fill="#5f8fc6"/>
<circle cx="2864.9" cy="1599.4" r="8.7" fill="#77a3d0"/>
<circle cx="2864.9" cy="1665" r="23.6" fill="#94c0df"/>
<circle cx="2962.7" cy="1404.5" r="8.7" fill="#86b0d8"/>
<circle cx="2962.7" cy="1469.7" r="17" fill="#6b9acc"/>
<circle cx="2962.7" cy="1534.8" r="19.5" fill="#72a0cf"/>
<circle cx="2962.7" cy="1599.4" r="11.3" fill="#77a3d0"/>
<circle cx="2962.7" cy="1665" r="31.3" fill="#f98b55"/>
<rect x="3201.8" y="429.5" width="59" height="59" fill="#fbeceb"/>
<rect x="3294.8" y="429.5" width="59" height="59" fill="#e8b5ad"/>
<rect x="3387.8" y="429.5" width="59" height="59" fill="#c87066"/>
<rect x="3573.8" y="429.5" width="59" height="59" fill="#00008b"/>
<rect x="3666.8" y="429.5" width="59" height="59" fill="#cc776c"/>
<rect x="3294.8" y="495.5" width="59" height="59" fill="#fbebe8"/>
<rect x="3387.8" y="495.5" width="59" height="59" fill="#fcf0ee"/>
<rect x="3573.8" y="495.5" width="59" height="59" fill="#957bc3"/>
<rect x="3666.8" y="495.5" width="59" height="59" fill="#e2a096"/>
<rect x="3759.8" y="495.5" width="59" height="59" fill="#e8b5ad"/>
<rect x="3294.8" y="562.0" width="59" height="59" fill="#fae5e3"/>
<rect x="3387.8" y="562.0" width="59" height="59" fill="#e6e0f2"/>
<rect x="3573.8" y="562.0" width="59" height="59" fill="#ebbcb5"/>
<rect x="3666.8" y="562.0" width="59" height="59" fill="#e09a90"/>
<rect x="3759.8" y="562.0" width="59" height="59" fill="#d98c81"/>
<rect x="3294.8" y="627.5" width="59" height="59" fill="#f7e1de"/>
<rect x="3387.8" y="627.5" width="59" height="59" fill="#fdf6f4"/>
<rect x="3666.8" y="627.5" width="59" height="59" fill="#e8b5ad"/>
<rect x="3294.8" y="693.5" width="59" height="59" fill="#fae7e5"/>
<rect x="3387.8" y="693.5" width="59" height="59" fill="#fcf0ee"/>
<rect x="3573.8" y="693.5" width="59" height="59" fill="#7b5cb5"/>
<rect x="3666.8" y="693.5" width="59" height="59" fill="#efc8c2"/>
<rect x="3294.8" y="759.5" width="59" height="59" fill="#f5d9d5"/>
<rect x="3387.8" y="759.5" width="59" height="59" fill="#fae6e3"/>
<rect x="3573.8" y="759.5" width="59" height="59" fill="#c2b0dc"/>
<rect x="3759.8" y="759.5" width="59" height="59" fill="#8770bf"/>
<rect x="3294.8" y="825.5" width="59" height="59" fill="#d2c4e6"/>
<rect x="3387.8" y="825.5" width="59" height="59" fill="#d8caea"/>
<rect x="3480.8" y="825.5" width="59" height="59" fill="#d2c4e6"/>
<rect x="3759.8" y="825.5" width="59" height="59" fill="#9580c7"/>
<rect x="3201.8" y="1375.0" width="59" height="59" fill="#a83232"/>
<rect x="3294.8" y="1375.0" width="59" height="59" fill="#a3282b"/>
<rect x="3387.8" y="1375.0" width="59" height="59" fill="#e0a39a"/>
<rect x="3201.8" y="1440.2" width="59" height="59" fill="#2b0f99"/>
<rect x="3294.8" y="1440.2" width="59" height="59" fill="#3a1c9e"/>
<rect x="3480.8" y="1440.2" width="59" height="59" fill="#d07a72"/>
<rect x="3759.8" y="1440.2" width="59" height="59" fill="#dd968e"/>
<rect x="3480.8" y="1505.3" width="59" height="59" fill="#d07a72"/>
<rect x="3759.8" y="1505.3" width="59" height="59" fill="#ecbab4"/>
<rect x="3201.8" y="1569.9" width="59" height="59" fill="#dd9a94"/>
<rect x="3387.8" y="1569.9" width="59" height="59" fill="#bf5c52"/>
<rect x="4066.1" y="429.5" width="59" height="59" fill="#6b0021"/>
<rect x="4159.0" y="429.5" width="59" height="59" fill="#e255a0"/>
<rect x="4251.9" y="429.5" width="59" height="59" fill="#e3d8ea"/>
<rect x="4437.7" y="429.5" width="59" height="59" fill="#efe9f4"/>
<rect x="4530.6" y="429.5" width="59" height="59" fill="#e6dbec"/>
<rect x="4623.5" y="429.5" width="59" height="59" fill="#cd99c9"/>
<rect x="4066.1" y="495.5" width="59" height="59" fill="#e34e9c"/>
<rect x="4251.9" y="495.5" width="59" height="59" fill="#cc8cc4"/>
<rect x="4437.7" y="495.5" width="59" height="59" fill="#f4f0f7"/>
<rect x="4066.1" y="562.0" width="59" height="59" fill="#d3a6d0"/>
<rect x="4437.7" y="562.0" width="59" height="59" fill="#cc99c9"/>
<rect x="4530.6" y="562.0" width="59" height="59" fill="#d0a4cd"/>
<rect x="4623.5" y="562.0" width="59" height="59" fill="#dcc2df"/>
<rect x="4716.4" y="562.0" width="59" height="59" fill="#f0edf5"/>
<rect x="4066.1" y="627.5" width="59" height="59" fill="#c895c6"/>
<rect x="4159.0" y="627.5" width="59" height="59" fill="#ece8f3"/>
<rect x="4437.7" y="627.5" width="59" height="59" fill="#efebf4"/>
<rect x="4623.5" y="627.5" width="59" height="59" fill="#ede7f2"/>
<rect x="4716.4" y="627.5" width="59" height="59" fill="#efebf4"/>
<rect x="4066.1" y="693.5" width="59" height="59" fill="#ede8f3"/>
<rect x="4159.0" y="693.5" width="59" height="59" fill="#dfd1e6"/>
<rect x="4251.9" y="693.5" width="59" height="59" fill="#efe6f4"/>
<rect x="4716.4" y="693.5" width="59" height="59" fill="#efebf4"/>
<rect x="4159.0" y="759.5" width="59" height="59" fill="#f0edf5"/>
<rect x="4251.9" y="759.5" width="59" height="59" fill="#d189c2"/>
<rect x="4530.6" y="759.5" width="59" height="59" fill="#cc8fc4"/>
<rect x="4716.4" y="759.5" width="59" height="59" fill="#efebf4"/>
<rect x="4066.1" y="825.5" width="59" height="59" fill="#f4f2f8"/>
<rect x="4159.0" y="825.5" width="59" height="59" fill="#de67b2"/>
<rect x="4251.9" y="825.5" width="59" height="59" fill="#e9e3f0"/>
<rect x="4344.8" y="825.5" width="59" height="59" fill="#d879b8"/>
<rect x="4437.7" y="825.5" width="59" height="59" fill="#f4f2f8"/>
<rect x="4530.6" y="825.5" width="59" height="59" fill="#cc8bc0"/>
<rect x="4623.5" y="825.5" width="59" height="59" fill="#d3b5d6"/>
<rect x="4716.4" y="825.5" width="59" height="59" fill="#d3a6d0"/>
<rect x="4066.1" y="1375.0" width="59" height="59" fill="#e62a8a"/>
<rect x="4159.0" y="1375.0" width="59" height="59" fill="#de62ac"/>
<rect x="4251.9" y="1375.0" width="59" height="59" fill="#f5f3f8"/>
<rect x="4344.8" y="1375.0" width="59" height="59" fill="#efebf4"/>
<rect x="4437.7" y="1375.0" width="59" height="59" fill="#e055a2"/>
<rect x="4530.6" y="1375.0" width="59" height="59" fill="#d37fb8"/>
<rect x="4623.5" y="1375.0" width="59" height="59" fill="#fbfafc"/>
<rect x="4716.4" y="1375.0" width="59" height="59" fill="#fbfafc"/>
<rect x="4066.1" y="1440.2" width="59" height="59" fill="#6b0021"/>
<rect x="4159.0" y="1440.2" width="59" height="59" fill="#dcc8e1"/>
<rect x="4251.9" y="1440.2" width="59" height="59" fill="#dd68b1"/>
<rect x="4344.8" y="1440.2" width="59" height="59" fill="#d8b9da"/>
<rect x="4437.7" y="1440.2" width="59" height="59" fill="#d81b64"/>
<rect x="4530.6" y="1440.2" width="59" height="59" fill="#e055a2"/>
<rect x="4623.5" y="1440.2" width="59" height="59" fill="#cc9ac9"/>
<rect x="4716.4" y="1440.2" width="59" height="59" fill="#ffffff"/>
<rect x="4066.1" y="1505.3" width="59" height="59" fill="#c8124e"/>
<rect x="4159.0" y="1505.3" width="59" height="59" fill="#d9bedb"/>
<rect x="4251.9" y="1505.3" width="59" height="59" fill="#df6ab2"/>
<rect x="4344.8" y="1505.3" width="59" height="59" fill="#d7b7d9"/>
<rect x="4437.7" y="1505.3" width="59" height="59" fill="#dd72b4"/>
<rect x="4530.6" y="1505.3" width="59" height="59" fill="#fcfbfd"/>
<rect x="4623.5" y="1505.3" width="59" height="59" fill="#fcfbfd"/>
<rect x="4716.4" y="1505.3" width="59" height="59" fill="#d7b7d9"/>
<rect x="4066.1" y="1569.9" width="59" height="59" fill="#e8e2f0"/>
<rect x="4159.0" y="1569.9" width="59" height="59" fill="#efe9f4"/>
<rect x="4251.9" y="1569.9" width="59" height="59" fill="#eeeaf4"/>
<rect x="4344.8" y="1569.9" width="59" height="59" fill="#f1eef6"/>
<rect x="4437.7" y="1569.9" width="59" height="59" fill="#f3f0f7"/>
<rect x="4530.6" y="1569.9" width="59" height="59" fill="#f6f4f9"/>
<rect x="4623.5" y="1569.9" width="59" height="59" fill="#f4f2f8"/>
<rect x="4716.4" y="1569.9" width="59" height="59" fill="#e1d3e7"/>
<rect x="4066.1" y="1635.5" width="59" height="59" fill="#6b0021"/>
<rect x="4159.0" y="1635.5" width="59" height="59" fill="#cfa2cc"/>
<rect x="4251.9" y="1635.5" width="59" height="59" fill="#e349a0"/>
<rect x="4344.8" y="1635.5" width="59" height="59" fill="#d5b4d7"/>
<rect x="4437.7" y="1635.5" width="59" height="59" fill="#dc70b2"/>
<rect x="4530.6" y="1635.5" width="59" height="59" fill="#fbfafc"/>
<rect x="4623.5" y="1635.5" width="59" height="59" fill="#fcfbfd"/>
<rect x="4716.4" y="1635.5" width="59" height="59" fill="#fbfafc"/>
<path d="M813,1392V1378.5H1044V1390" fill="none" stroke="#9a9a9a" stroke-width="4"/>
<path d="M930.5,1374V1369C930.5,1352 939,1341 955,1341" fill="none" stroke="#9a9a9a" stroke-width="5.5"/>
<path d="M950,1335.5L973,1341L950,1348.5L954,1341Z" fill="#9a9a9a"/>
<text x="983.6" y="1356.0" font-size="51" fill="#9a9a9a" textLength="243.1" lengthAdjust="spacingAndGlyphs" stroke="#9a9a9a" stroke-width="0.5">(in spleen)</text>
<text x="1002" y="1765.5" font-size="49" fill="#9a9a9a" stroke="#9a9a9a" stroke-width="1.1" text-anchor="end">scaled median</text>
<text x="1002" y="1810.3" font-size="49" fill="#9a9a9a" stroke="#9a9a9a" stroke-width="1.1" text-anchor="end">fluorescent intensity</text>
<circle cx="1045.6" cy="1775.2" r="6.95" fill="none" stroke="#9a9a9a" stroke-width="3.7"/>
<circle cx="1100.5" cy="1775.2" r="22.65" fill="none" stroke="#9a9a9a" stroke-width="3.7"/>
<circle cx="1168.7" cy="1775.2" r="29.25" fill="none" stroke="#9a9a9a" stroke-width="3.7"/>
<text x="2081" y="1766.5" font-size="49" fill="#9a9a9a" stroke="#9a9a9a" stroke-width="1.1" text-anchor="end">scaled</text>
<text x="2081" y="1810.3" font-size="49" fill="#9a9a9a" stroke="#9a9a9a" stroke-width="1.1" text-anchor="end">expression</text>
<defs><linearGradient id="g1"><stop offset="0" stop-color="#4575b4"/><stop offset="0.18" stop-color="#91bfdb"/><stop offset="0.36" stop-color="#e0f3f8"/><stop offset="0.52" stop-color="#ffffbf"/><stop offset="0.68" stop-color="#fee090"/><stop offset="0.84" stop-color="#fc8d59"/><stop offset="1" stop-color="#d73027"/></linearGradient><linearGradient id="g2"><stop offset="0" stop-color="#00008b"/><stop offset="0.1" stop-color="#00008b"/><stop offset="0.16" stop-color="#4b2d9f"/><stop offset="0.3" stop-color="#a48ed0"/><stop offset="0.34" stop-color="#d8cfee"/><stop offset="0.38" stop-color="#ffffff"/><stop offset="0.62" stop-color="#dd9a92"/><stop offset="0.74" stop-color="#c45d55"/><stop offset="0.86" stop-color="#a52a2a"/><stop offset="1" stop-color="#a52a2a"/></linearGradient><linearGradient id="g3"><stop offset="0" stop-color="#ffffff"/><stop offset="0.05" stop-color="#ffffff"/><stop offset="0.18" stop-color="#ebe3f0"/><stop offset="0.29" stop-color="#c9a3d0"/><stop offset="0.39" stop-color="#d47dba"/><stop offset="0.49" stop-color="#e448a0"/><stop offset="0.57" stop-color="#e0207a"/><stop offset="0.62" stop-color="#cc0a55"/><stop offset="0.7" stop-color="#98003f"/><stop offset="0.78" stop-color="#6a0020"/><stop offset="1" stop-color="#67001f"/></linearGradient></defs>
<rect x="2112.5" y="1757" width="189.3" height="36.6" fill="url(#g1)"/>
<rect x="2166" y="1757" width="2" height="7" fill="#fff"/><rect x="2166" y="1786.6" width="2" height="7" fill="#fff"/>
<rect x="2219.8" y="1757" width="2" height="7" fill="#fff"/><rect x="2219.8" y="1786.6" width="2" height="7" fill="#fff"/>
<rect x="2273.6" y="1757" width="2" height="7" fill="#fff"/><rect x="2273.6" y="1786.6" width="2" height="7" fill="#fff"/>
<text x="2375" y="1788.7" font-size="49" fill="#9a9a9a" stroke="#9a9a9a" stroke-width="1.1" text-anchor="start">% expr</text>
<circle cx="2567" cy="1775.2" r="6.95" fill="none" stroke="#9a9a9a" stroke-width="3.7"/>
<circle cx="2622.6" cy="1775.2" r="22.65" fill="none" stroke="#9a9a9a" stroke-width="3.7"/>
<circle cx="2690.2" cy="1775.2" r="29.25" fill="none" stroke="#9a9a9a" stroke-width="3.7"/>
<text x="3522" y="1766.5" font-size="49" fill="#9a9a9a" stroke="#9a9a9a" stroke-width="1.1" text-anchor="end">log2-fold</text>
<text x="3522" y="1810.3" font-size="49" fill="#9a9a9a" stroke="#9a9a9a" stroke-width="1.1" text-anchor="end">expression</text>
<rect x="3556.4" y="1757" width="188.2" height="36.6" rx="3" fill="url(#g2)"/>
<rect x="3562.4" y="1757.5" width="6" height="11.5" rx="3" fill="#fff"/><rect x="3562.4" y="1781.8" width="6" height="11.5" rx="3" fill="#fff"/>
<rect x="3619.4" y="1757.5" width="6" height="11.5" rx="3" fill="#fff"/><rect x="3619.4" y="1781.8" width="6" height="11.5" rx="3" fill="#fff"/>
<rect x="3675.3" y="1757.5" width="6" height="11.5" rx="3" fill="#fff"/><rect x="3675.3" y="1781.8" width="6" height="11.5" rx="3" fill="#fff"/>
<rect x="3731.3" y="1757.5" width="6" height="11.5" rx="3" fill="#fff"/><rect x="3731.3" y="1781.8" width="6" height="11.5" rx="3" fill="#fff"/>
<text x="4437" y="1766.5" font-size="49" fill="#9a9a9a" stroke="#9a9a9a" stroke-width="1.1" text-anchor="end">regulatory</text>
<text x="4437" y="1810.3" font-size="49" fill="#9a9a9a" stroke="#9a9a9a" stroke-width="1.1" text-anchor="end">potential</text>
<rect x="4481.3" y="1757" width="164.4" height="36.6" rx="3" fill="url(#g3)"/>
<rect x="4519.8" y="1757.5" width="6" height="11.5" rx="3" fill="#fff"/><rect x="4519.8" y="1781.8" width="6" height="11.5" rx="3" fill="#fff"/>
<rect x="4576.1" y="1757.5" width="6" height="11.5" rx="3" fill="#fff"/><rect x="4576.1" y="1781.8" width="6" height="11.5" rx="3" fill="#fff"/>
<rect x="4632.5" y="1757.5" width="6" height="11.5" rx="3" fill="#fff"/><rect x="4632.5" y="1781.8" width="6" height="11.5" rx="3" fill="#fff"/>
</svg></body></html>
